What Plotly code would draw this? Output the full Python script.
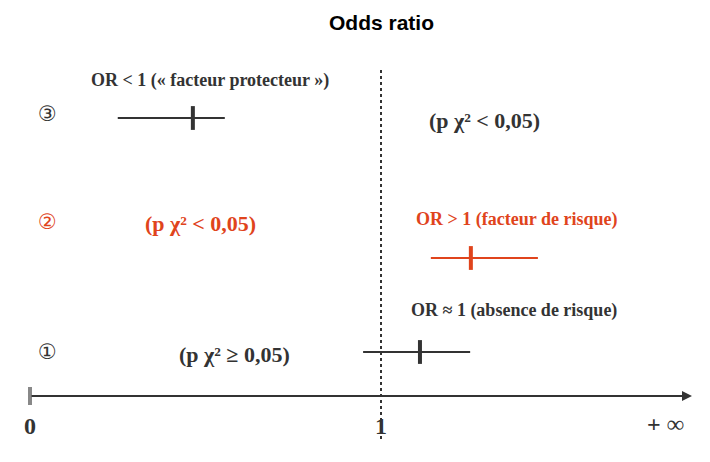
import plotly.graph_objects as go

rows = ["1", "2", "3"]
row_y = [352, 258, 118]          # vertical slot of each row (pixel-like units)
mark_y = [352, 222, 114]
ci_low = [0.949, 1.142, 0.25]
ci_high = [1.254, 1.447, 0.555]
or_point = [1.111, 1.256, 0.464]
row_colors = ["#333333", "#e0441c", "#333333"]
row_marks = ["①", "②", "③"]

PX = 351.0  # pixels per OR unit
def xv(px):
    return (px - 30) / PX

fig = go.Figure()
for i in range(3):
    fig.add_trace(go.Scatter(x=[ci_low[i], ci_high[i]], y=[row_y[i]] * 2, mode="lines",
                             line=dict(color=row_colors[i], width=2), hoverinfo="skip"))
    fig.add_trace(go.Scatter(x=[or_point[i]], y=[row_y[i]], mode="markers",
                             marker=dict(symbol="line-ns", size=17,
                                         line=dict(color=row_colors[i], width=4)), hoverinfo="skip"))

# dotted line at OR = 1
fig.add_shape(type="line", x0=1, x1=1, y0=70, y1=440, line=dict(color="#333", width=2, dash="dot"))
# x axis with arrow
fig.add_annotation(x=xv(692), y=396, ax=0, ay=396, xref="x", yref="y", axref="x", ayref="y",
                   showarrow=True, arrowhead=2, arrowsize=1, arrowwidth=2, arrowcolor="#333", text="")
fig.add_shape(type="line", x0=0, x1=0, y0=387, y1=405, line=dict(color="#888", width=4))

serif = "Liberation Serif"
def txt(x, y, s, color="#333", size=17, family=serif):
    fig.add_annotation(x=x, y=y, text="<b>%s</b>" % s, showarrow=False,
                       font=dict(family=family, size=size, color=color))

txt(1, 22, "Odds ratio", "#000", 21, "Liberation Sans")
for i in range(3):
    fig.add_annotation(x=xv(47), y=mark_y[i], text=row_marks[i], showarrow=False,
                       font=dict(family="DejaVu Sans", size=21, color=row_colors[i]))
txt(xv(210), 80, "OR < 1 (« facteur protecteur »)", size=18)
txt(xv(484), 120, "(p χ² < 0,05)", size=22)
txt(xv(200), 223, "(p χ² < 0,05)", "#e0441c", 22)
txt(xv(516), 219, "OR > 1 (facteur de risque)", "#e0441c", 18)
txt(xv(514), 310, "OR ≈ 1 (absence de risque)", size=18)
txt(xv(234), 354, "(p χ² ≥ 0,05)", size=22)
txt(0, 426, "0", size=24)
txt(1, 426, "1", size=24)
txt(xv(665), 424, "+ ∞", size=24)

fig.update_layout(width=710, height=462, margin=dict(l=0, r=0, t=0, b=0),
                  plot_bgcolor="white", paper_bgcolor="white", showlegend=False,
                  xaxis=dict(range=[xv(8), xv(718)], visible=False, fixedrange=True),
                  yaxis=dict(range=[470, 8], visible=False, fixedrange=True))
fig.write_html("out.html")
